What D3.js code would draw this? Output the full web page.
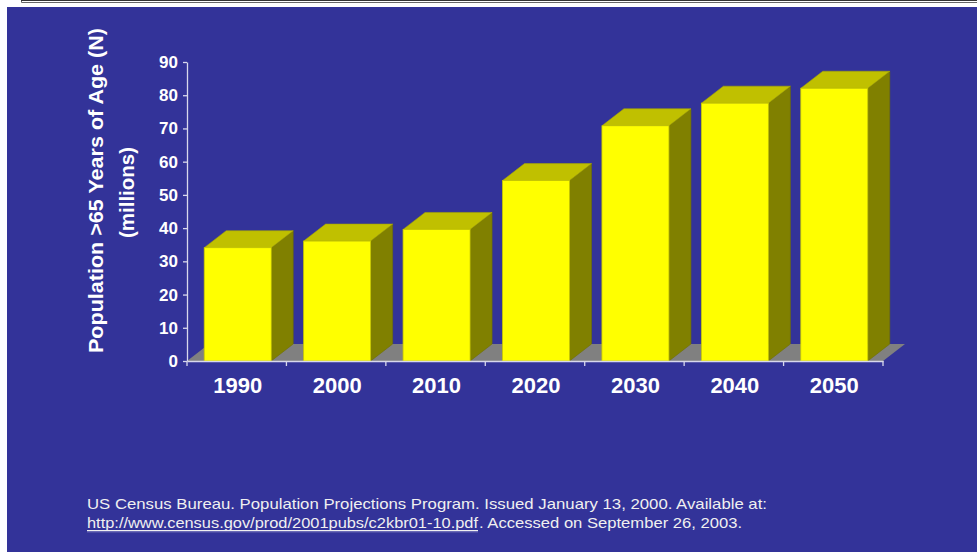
<!DOCTYPE html>
<html>
<head>
<meta charset="utf-8">
<script src="https://cdn.jsdelivr.net/npm/d3@7"></script>
<style>
  html, body { margin: 0; padding: 0; background: #ffffff; }
  svg { display: block; }
</style>
</head>
<body>
<svg id="chart" width="977" height="552"></svg>
<script>
// ---- data ----
const categories = ["1990", "2000", "2010", "2020", "2030", "2040", "2050"];
const populationMillions = [34.1, 36.1, 39.6, 54.3, 70.8, 77.6, 82.1];
const yTicks = [0, 10, 20, 30, 40, 50, 60, 70, 80, 90];
const yTitleLines = ["Population >65 Years of Age (N)", "(millions)"];
const sourceLine1 = "US Census Bureau. Population Projections Program. Issued January 13, 2000. Available at:";
const sourceLink = "http://www.census.gov/prod/2001pubs/c2kbr01-10.pdf";
const sourceRest = ". Accessed on September 26, 2003.";

// ---- layout ----
const W = 977, H = 552;
const plot = { left: 187, right: 883, top: 62, bottom: 361 };
const depth = { dx: 22, dy: -17 };
const barWidth = 67;

const svg = d3.select("#chart");

// page frame remnants
svg.append("rect").attr("x", 7).attr("y", 7).attr("width", W - 7).attr("height", H - 7).attr("fill", "#333399");
svg.append("path").attr("d", "M21.5,0 V2.5 H977").attr("fill", "none").attr("stroke", "#666").attr("stroke-width", 1);
svg.append("line").attr("x1", 21).attr("x2", 977).attr("y1", 0.5).attr("y2", 0.5).attr("stroke", "#333").attr("stroke-width", 1);

// scales
const x = d3.scaleBand().domain(categories).range([plot.left, plot.right]).padding(0);
const y = d3.scaleLinear().domain([0, 90]).range([plot.bottom, plot.top]);

// floor
const floorPts = [
  [plot.left, plot.bottom],
  [plot.right, plot.bottom],
  [plot.right + depth.dx, plot.bottom + depth.dy],
  [plot.left + depth.dx, plot.bottom + depth.dy]
];
svg.append("polygon").attr("points", floorPts.map(p => p.join(",")).join(" "))
  .attr("fill", "#808080");

// bars (3D)
const bars = svg.append("g");
categories.forEach((c, i) => {
  const v = populationMillions[i];
  const x0 = x(c) + x.bandwidth() / 2 - barWidth / 2 + 1;
  const x1 = x0 + barWidth;
  const yt = y(v), yb = y(0);
  const g = bars.append("g");
  g.append("polygon")
    .attr("points", [[x1, yb], [x1 + depth.dx, yb + depth.dy], [x1 + depth.dx, yt + depth.dy], [x1, yt]].map(p => p.join(",")).join(" "))
    .attr("fill", "#808000").attr("stroke", "#6e6e00").attr("stroke-width", 0.6);
  g.append("polygon")
    .attr("points", [[x0, yt], [x1, yt], [x1 + depth.dx, yt + depth.dy], [x0 + depth.dx, yt + depth.dy]].map(p => p.join(",")).join(" "))
    .attr("fill", "#c0c000").attr("stroke", "#a8a800").attr("stroke-width", 0.6);
  g.append("rect").attr("x", x0).attr("y", yt).attr("width", barWidth).attr("height", yb - yt)
    .attr("fill", "#ffff00").attr("stroke", "#c8c800").attr("stroke-width", 0.8);
});

// y axis
const axisColor = "#d8d8ec";
const yAxis = svg.append("g").attr("transform", `translate(${plot.left},0)`)
  .call(d3.axisLeft(y).tickValues(yTicks).tickSize(4).tickPadding(5).tickSizeOuter(0));
yAxis.select(".domain").attr("stroke", axisColor).attr("stroke-width", 1.3);
yAxis.selectAll(".tick line").attr("stroke", axisColor).attr("stroke-width", 1.3);
yAxis.selectAll(".tick text").attr("fill", "#ffffff")
  .style("font-family", "'Liberation Sans', Arial, sans-serif")
  .style("font-weight", "bold").style("font-size", "17px");

// x axis
const xAxis = svg.append("g").attr("transform", `translate(0,${plot.bottom})`)
  .call(d3.axisBottom(x).tickSize(0).tickPadding(16).tickSizeOuter(0));
xAxis.select(".domain").attr("stroke", axisColor).attr("stroke-width", 1.3);
xAxis.selectAll(".tick text").attr("fill", "#ffffff")
  .attr("dx", "1")
  .style("font-family", "'Liberation Sans', Arial, sans-serif")
  .style("font-weight", "bold").style("font-size", "22px");
const boundaries = categories.map(c => x(c)).concat([plot.right]);
svg.append("g").selectAll("line").data(boundaries).join("line")
  .attr("x1", d => d).attr("x2", d => d)
  .attr("y1", plot.bottom).attr("y2", plot.bottom + 5)
  .attr("stroke", axisColor).attr("stroke-width", 1.3);

// y title
const titleFont = "'Liberation Sans', Arial, sans-serif";
svg.append("text")
  .attr("transform", "translate(96,190.5) rotate(-90)")
  .attr("text-anchor", "middle").attr("dy", "0.35em")
  .attr("fill", "#ffffff")
  .style("font-family", titleFont).style("font-weight", "bold").style("font-size", "19.5px")
  .attr("textLength", 325).attr("lengthAdjust", "spacingAndGlyphs")
  .text(yTitleLines[0]);
svg.append("text")
  .attr("transform", "translate(127,192.5) rotate(-90)")
  .attr("text-anchor", "middle").attr("dy", "0.35em")
  .attr("fill", "#ffffff")
  .style("font-family", titleFont).style("font-weight", "bold").style("font-size", "19.5px")
  .attr("textLength", 91).attr("lengthAdjust", "spacingAndGlyphs")
  .text(yTitleLines[1]);

// source note
const noteFont = "'Liberation Sans', Arial, sans-serif";
svg.append("text")
  .attr("x", 87).attr("y", 509)
  .attr("fill", "#f0f0f0")
  .style("font-family", noteFont).style("font-size", "15px")
  .attr("textLength", 680).attr("lengthAdjust", "spacingAndGlyphs")
  .text(sourceLine1);
svg.append("text")
  .attr("x", 87).attr("y", 528)
  .attr("fill", "#f0f0f0")
  .style("font-family", noteFont).style("font-size", "15px")
  .attr("textLength", 391).attr("lengthAdjust", "spacingAndGlyphs")
  .text(sourceLink);
svg.append("line").attr("x1", 87).attr("x2", 478).attr("y1", 530.5).attr("y2", 530.5)
  .attr("stroke", "#f0f0f0").attr("stroke-width", 1);
svg.append("line").attr("x1", 87).attr("x2", 478).attr("y1", 531.8).attr("y2", 531.8)
  .attr("stroke", "#9999cc").attr("stroke-width", 0.8);
svg.append("text")
  .attr("x", 479).attr("y", 528)
  .attr("fill", "#f0f0f0")
  .style("font-family", noteFont).style("font-size", "15px")
  .attr("textLength", 263).attr("lengthAdjust", "spacingAndGlyphs")
  .text(sourceRest);
</script>
</body>
</html>
